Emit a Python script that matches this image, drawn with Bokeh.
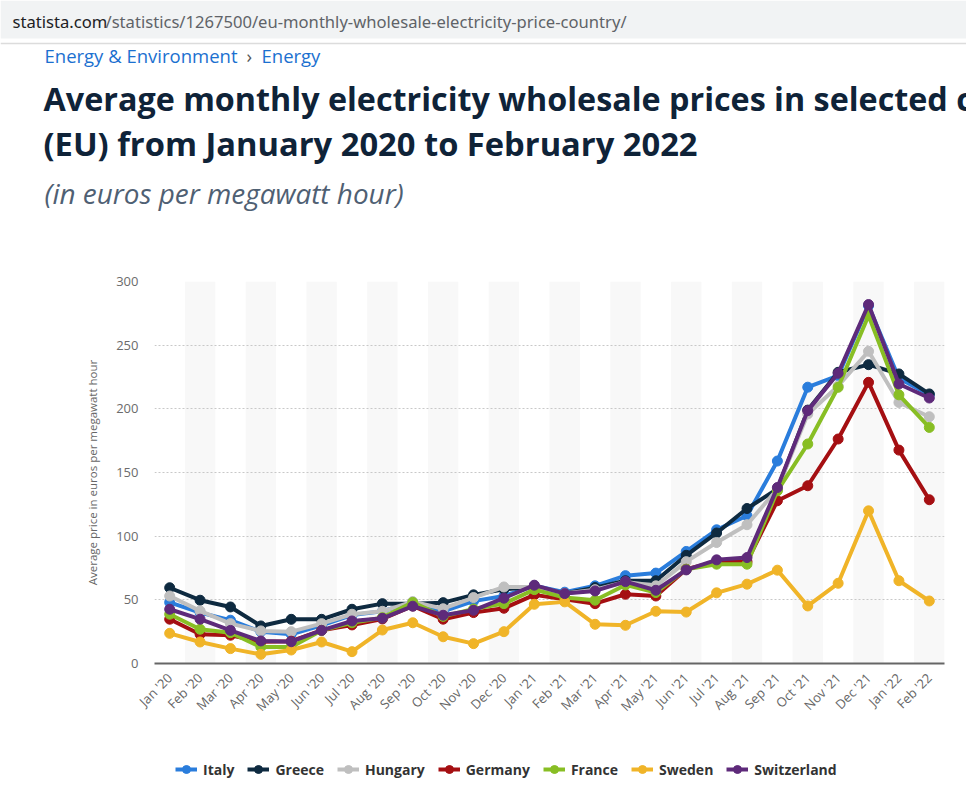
import math
from bokeh.plotting import figure
from bokeh.models import (Range1d, FactorRange, Legend, LegendItem, FixedTicker,
                          ColumnDataSource)
from bokeh.layouts import column
from bokeh.core.properties import value
from bokeh.embed import file_html
from bokeh.resources import INLINE

# ---------------- data ----------------
months = ["Jan '20", "Feb '20", "Mar '20", "Apr '20", "May '20", "Jun '20", "Jul '20",
          "Aug '20", "Sep '20", "Oct '20", "Nov '20", "Dec '20", "Jan '21", "Feb '21",
          "Mar '21", "Apr '21", "May '21", "Jun '21", "Jul '21", "Aug '21", "Sep '21",
          "Oct '21", "Nov '21", "Dec '21", "Jan '22", "Feb '22"]

italy = [48, 40, 34, 25, 23, 30, 38, 41, 48, 41, 49, 53, 61, 56, 61, 69, 71, 88,
         105, 116, 159, 217, 226, 281, 224, 211]
greece = [59.5, 49.7, 44.4, 29.5, 34.7, 34.7, 42.6, 47, 47, 47.8, 53.9, 58.3, 60, 55,
          59.6, 65, 65, 85, 102.5, 121.7, 137, 199, 228.7, 234.7, 227.4, 211.7]
hungary = [53, 41.3, 31.3, 25.6, 25, 31.3, 38.7, 41, 48.6, 43, 51.8, 60.1, 60, 55,
           58, 64, 61, 80, 95, 109, 137, 196, 218, 245.2, 205, 193.8]
germany = [34.8, 23, 22.2, 17, 17.5, 26, 30.3, 35, 45.2, 34.8, 40, 43.4, 53.9, 50.5,
           47, 54.4, 53, 74, 80, 80, 127.8, 139.6, 176.3, 220.8, 167.6, 128.6]
france = [38.7, 26.9, 24.2, 13, 13, 26, 32, 36, 48, 37, 42.8, 47, 58, 51.8, 49.7,
          61.7, 55.7, 74, 78, 78, 135.6, 172.4, 216.9, 273.3, 211, 185.4]
sweden = [23.7, 16.9, 11.7, 7.2, 10.6, 16.9, 9.3, 26.3, 32, 21, 15.6, 25, 46.5, 48.4,
          30.8, 30, 41, 40.4, 55.5, 62.3, 73.3, 45.2, 63, 119.9, 65, 49.1]
switzerland = [42.6, 34.8, 26, 17.7, 17.1, 26, 33.4, 35.5, 45, 37.9, 41.8, 51.3, 61.5,
               54.9, 57, 64.3, 57.5, 73.5, 81.4, 83.2, 138.2, 198.6, 227.9, 281.9,
               219.5, 208.5]

series_names = ["Italy", "Greece", "Hungary", "Germany", "France", "Sweden", "Switzerland"]
series_values = [italy, greece, hungary, germany, france, sweden, switzerland]
series_colors = ["#2a7ddc", "#0e2a40", "#bfbfbf", "#a50f12", "#88be24", "#f0b428", "#5e2a7a"]

y_ticks = [0, 50, 100, 150, 200, 250, 300]
y_label = "Average price in euros per megawatt hour"

url_host = "statista.com"
url_path = "/statistics/1267500/eu-monthly-wholesale-electricity-price-country/"
crumb_1 = "Energy & Environment"
crumb_sep = "\u203a"
crumb_2 = "Energy"
title_1 = "Average monthly electricity wholesale prices in selected countries in the European Union"
title_2 = "(EU) from January 2020 to February 2022"
subtitle = "(in euros per megawatt hour)"

FONT = value("Open Sans")
PAGE_W = 966
HDR_H = 226
CHART_H = 509
LEG_H = 60

# ---------------- header (page pixel coordinates) ----------------
hdr = figure(width=PAGE_W, height=HDR_H, x_range=Range1d(0, PAGE_W), y_range=Range1d(HDR_H, 0),
             output_backend="svg", toolbar_location=None, min_border=0,
             x_axis_location=None, y_axis_location=None)
hdr.frame_align = False
hdr.grid.visible = False
hdr.outline_line_color = None
hdr.background_fill_color = "white"
hdr.border_fill_color = "white"

hdr.quad(left=[0], right=[PAGE_W], top=[0], bottom=[38], fill_color="#f1f3f4", line_color=None)
hdr.segment(x0=[0], y0=[43], x1=[PAGE_W], y1=[43], line_color="#dcdcdc", line_width=1.5)

hdr.text(x=[12], y=[21], text=[url_host], text_font=value("Noto Sans"), text_font_size="16.6px",
         text_color="#202124", text_baseline="middle", text_align="left")
hdr.text(x=[105], y=[21], text=[url_path], text_font=value("Noto Sans"), text_font_size="16.6px",
         text_color="#5f6368", text_baseline="middle", text_align="left")

hdr.text(x=[44], y=[55], text=[crumb_1], text_font=FONT, text_font_size="18.5px",
         text_color="#1b70d0", text_baseline="middle", text_align="left")
hdr.text(x=[246], y=[55], text=[crumb_sep], text_font=FONT, text_font_size="18.5px",
         text_color="#555555", text_baseline="middle", text_align="left")
hdr.text(x=[261], y=[55], text=[crumb_2], text_font=FONT, text_font_size="18.5px",
         text_color="#1b70d0", text_baseline="middle", text_align="left")

hdr.text(x=[43], y=[97], text=[title_1], text_font=FONT, text_font_size="32.3px",
         text_font_style="bold", text_color="#0f2338", text_baseline="middle", text_align="left")
hdr.text(x=[43], y=[143], text=[title_2], text_font=FONT, text_font_size="32.7px",
         text_font_style="bold", text_color="#0f2338", text_baseline="middle", text_align="left")
hdr.text(x=[44], y=[192], text=[subtitle], text_font=FONT, text_font_size="27.9px",
         text_font_style="italic", text_color="#4f6073", text_baseline="middle", text_align="left")

# ---------------- chart ----------------
p = figure(width=PAGE_W, height=CHART_H, x_range=FactorRange(factors=months, range_padding=0),
           y_range=Range1d(0, 300), output_backend="svg", toolbar_location=None,
           min_border_left=154, min_border_right=22, min_border_top=55, min_border_bottom=72)
p.frame_align = False
p.outline_line_color = None
p.background_fill_color = "white"
p.border_fill_color = "white"

# alternating column bands
band = p.vbar(x=months[1::2], top=300, bottom=0, width=1, fill_color="#f8f8f8", line_color=None)
band.level = "image"

p.xgrid.visible = False
p.ygrid.grid_line_color = "#c8c8c8"
p.ygrid.grid_line_dash = "2 2"
p.ygrid.grid_line_width = 1

p.yaxis.ticker = FixedTicker(ticks=y_ticks)
p.yaxis.axis_line_color = None
p.yaxis.major_tick_line_color = None
p.yaxis.minor_tick_line_color = None
p.yaxis.major_label_text_font = "Open Sans"
p.yaxis.major_label_text_font_size = "13px"
p.yaxis.major_label_text_color = "#6b6b6b"
p.yaxis.major_label_standoff = 10
p.yaxis.axis_label = y_label
p.yaxis.axis_label_text_font = "Open Sans"
p.yaxis.axis_label_text_font_size = "11.5px"
p.yaxis.axis_label_text_font_style = "normal"
p.yaxis.axis_label_text_color = "#666666"
p.yaxis.axis_label_standoff = 13

p.xaxis.axis_line_color = "#666666"
p.xaxis.axis_line_width = 2
p.xaxis.major_tick_line_color = None
p.xaxis.minor_tick_line_color = None
p.xaxis.major_label_orientation = math.pi / 4
p.xaxis.major_label_text_font = "Open Sans"
p.xaxis.major_label_text_font_size = "13px"
p.xaxis.major_label_text_color = "#666666"
p.xaxis.major_label_standoff = 6

for vals, col in zip(series_values, series_colors):
    src = ColumnDataSource(dict(x=months, y=vals))
    p.line("x", "y", source=src, line_color=col, line_width=4, line_join="round")
    p.scatter("x", "y", source=src, size=10, fill_color=col, line_color=col)

# ---------------- legend strip ----------------
leg = figure(width=PAGE_W, height=LEG_H, x_range=Range1d(0, PAGE_W), y_range=Range1d(0, LEG_H),
             output_backend="svg", toolbar_location=None, min_border=0,
             x_axis_location=None, y_axis_location=None)
leg.frame_align = False
leg.grid.visible = False
leg.outline_line_color = None
leg.background_fill_color = "white"
leg.border_fill_color = "white"

items = []
for name, col in zip(series_names, series_colors):
    # legend-only renderers: a single NaN point, nothing is drawn in the strip itself
    swatch = ColumnDataSource(dict(x=[float("nan")], y=[float("nan")]))
    lr = leg.line("x", "y", source=swatch, line_color=col, line_width=4)
    sr = leg.scatter("x", "y", source=swatch, size=10, fill_color=col, line_color=col)
    items.append(LegendItem(label=name, renderers=[lr, sr]))

legend = Legend(items=items, orientation="horizontal", location=(175, 16),
                border_line_color=None, background_fill_alpha=0, padding=5, spacing=13,
                label_standoff=6, glyph_width=22, glyph_height=20,
                label_text_font="Open Sans", label_text_font_size="14px",
                label_text_font_style="bold", label_text_color="#333333")
leg.add_layout(legend)

layout = column(hdr, p, leg, spacing=0)
open("out.html", "w").write(file_html(layout, INLINE))
